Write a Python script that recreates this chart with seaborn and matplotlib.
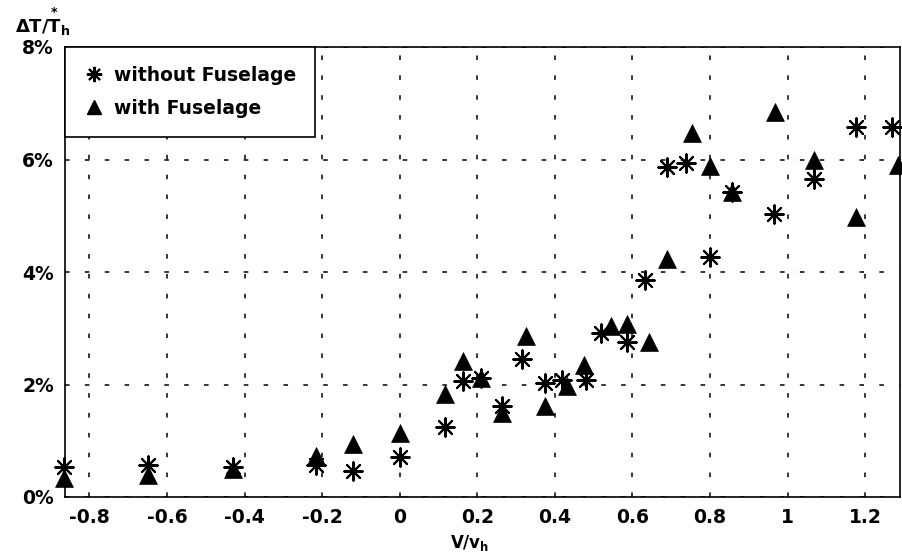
import matplotlib
matplotlib.use("Agg")
import matplotlib.pyplot as plt
import seaborn as sns
import pandas as pd
from matplotlib.lines import Line2D

# data (V/v_h, ΔT/T_h in %)
without_x = [-0.865, -0.65, -0.43, -0.215, -0.12, 0.0, 0.118, 0.164, 0.21, 0.265,
             0.315, 0.375, 0.418, 0.48, 0.52, 0.585, 0.633, 0.69, 0.738, 0.80,
             0.856, 0.965, 1.069, 1.177, 1.27]
without_y = [0.53, 0.57, 0.53, 0.57, 0.47, 0.72, 1.25, 2.06, 2.11, 1.61,
             2.45, 2.02, 2.08, 2.08, 2.91, 2.76, 3.86, 5.87, 5.93, 4.27,
             5.43, 5.04, 5.65, 6.58, 6.57]
with_x = [-0.865, -0.65, -0.43, -0.215, -0.12, 0.0, 0.117, 0.164, 0.21, 0.265,
          0.326, 0.375, 0.431, 0.475, 0.544, 0.585, 0.644, 0.69, 0.753, 0.80,
          0.856, 0.968, 1.069, 1.177, 1.285]
with_y = [0.33, 0.39, 0.50, 0.73, 0.95, 1.14, 1.83, 2.41, 2.12, 1.49,
          2.86, 1.62, 1.97, 2.35, 3.04, 3.08, 2.76, 4.24, 6.48, 5.88,
          5.43, 6.85, 5.99, 4.98, 5.90]
series_labels = ["without Fuselage", "with Fuselage"]
x_ticks = [-0.8, -0.6, -0.4, -0.2, 0, 0.2, 0.4, 0.6, 0.8, 1, 1.2]
x_tick_labels = ["-0.8", "-0.6", "-0.4", "-0.2", "0", "0.2", "0.4", "0.6", "0.8", "1", "1.2"]
y_ticks = [0, 2, 4, 6, 8]
y_tick_labels = ["0%", "2%", "4%", "6%", "8%"]

df_without = pd.DataFrame({"x": without_x, "y": without_y})
df_with = pd.DataFrame({"x": with_x, "y": with_y})

sns.set_style("white")
plt.rcParams["font.family"] = ["DejaVu Sans"]
plt.rcParams["font.weight"] = "bold"
plt.rcParams["text.color"] = "black"
plt.rcParams["axes.labelcolor"] = "black"
plt.rcParams["xtick.color"] = "black"
plt.rcParams["ytick.color"] = "black"

fig = plt.figure(figsize=(9.02, 5.56), dpi=100)
ax = fig.add_axes([65 / 902, 1 - 497 / 556, (900 - 65) / 902, (497 - 47) / 556])

star = (8, 2, 0)
sns.scatterplot(data=df_without, x="x", y="y", marker=star, s=175, color="black",
                edgecolor="black", linewidth=1.5, ax=ax, zorder=3, clip_on=False)
sns.scatterplot(data=df_with, x="x", y="y", marker="^", s=165, color="black",
                edgecolor="black", linewidth=0.5, ax=ax, zorder=3, clip_on=False)

ax.set_xlim(-0.863, 1.29)
ax.set_ylim(0, 8)
ax.set_xticks(x_ticks)
ax.set_xticklabels(x_tick_labels)
ax.set_yticks(y_ticks)
ax.set_yticklabels(y_tick_labels)
ax.tick_params(axis="both", direction="in", length=4, width=1, color="black",
               labelcolor="black", labelsize=13.5, pad=8)
for lab in ax.get_xticklabels() + ax.get_yticklabels():
    lab.set_fontweight("bold")

ax.grid(True, color="black", linestyle=(0, (3, 10)), linewidth=1.1)
for sp in ax.spines.values():
    sp.set_visible(True)
    sp.set_color("black")
    sp.set_linewidth(1.2)

ax.set_xlabel(r"V/v$_{\mathbf{h}}$", fontsize=12, fontweight="bold", labelpad=0,
              color="black")
ax.xaxis.set_label_coords((470 - 65) / (900 - 65), -0.08)
ax.set_ylabel("")

handles = [
    Line2D([], [], linestyle="none", marker=star, markersize=11, color="black",
           markeredgewidth=1.5),
    Line2D([], [], linestyle="none", marker="^", markersize=10, color="black"),
]
leg = ax.legend(handles, series_labels, loc="upper left", borderaxespad=0,
                fancybox=False, framealpha=1, edgecolor="black",
                prop={"size": 13.5, "weight": "bold"}, handlelength=1.1,
                handletextpad=0.5, borderpad=1.0, labelspacing=0.75,
                labelcolor="black")
leg.get_frame().set_linewidth(1.2)

fig.text(15 / 902, 1 - 22 / 556,
         r"$\mathbf{\Delta}\mathsf{T/}\overset{*}{\mathsf{T}}_{\mathsf{h}}$",
         fontsize=13, ha="left", va="center", color="black")

fig.savefig("out.png", dpi=100)
